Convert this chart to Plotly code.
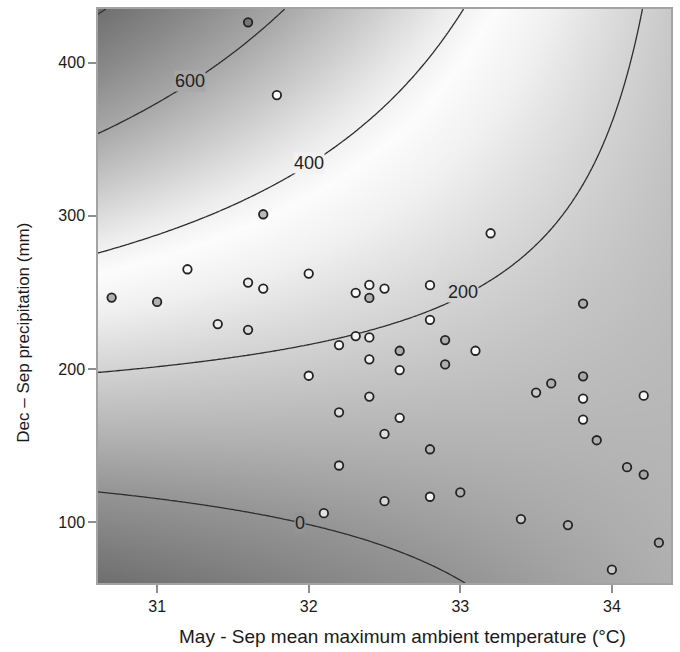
import numpy as np
import plotly.graph_objects as go

# ---------------------------------------------------------------
# Contour traces of the fitted response surface:
# level, temperature (°C) and precipitation (mm) along each isoline
# ---------------------------------------------------------------
iso_level = [0, 0, 0, 0, 0, 0, 0, 0,
             200, 200, 200, 200, 200, 200, 200, 200, 200, 200, 200, 200, 200,
             400, 400, 400, 400, 400, 400, 400, 400, 400,
             600, 600, 600, 600, 600,
             800]
iso_temp = [30.62, 30.99, 31.61, 31.87, 32.02, 32.51, 32.73, 33.00,
            30.62, 30.99, 31.72, 31.87, 32.18, 32.40, 32.89, 33.17, 33.52, 33.74, 33.93, 34.09, 34.19,
            30.62, 30.99, 31.39, 31.80, 32.12, 32.20, 32.33, 32.64, 33.00,
            30.62, 30.99, 31.37, 31.63, 31.83,
            30.64]
iso_precip = [119.2, 115.3, 105.5, 101.6, 98.6, 83.8, 75.1, 61.6,
              196.7, 203.3, 210.8, 213.7, 218.4, 225.0, 243.0, 256.4, 283.6, 309.7, 342.2, 374.8, 434.5,
              274.9, 286.8, 305.3, 325.9, 341.1, 349.8, 358.5, 381.0, 434.5,
              353.7, 373.8, 395.4, 413.5, 434.5,
              433.0]

# Observations: temperature, precipitation and observed response
obs_temp = [30.70, 31.00, 31.20, 31.60, 31.70, 31.40, 31.60, 31.70, 31.79, 31.60,
            32.00, 32.40, 32.31, 32.50, 32.40, 32.80, 32.80, 32.20, 32.31, 32.40,
            32.40, 32.60, 32.60, 32.90, 32.90, 33.10, 32.00, 33.20, 32.40, 32.20,
            32.60, 32.50, 32.80, 32.20, 32.50, 32.80, 33.00, 32.10, 33.81, 33.60,
            33.50, 33.81, 34.21, 33.81, 33.90, 34.10, 34.21, 33.40, 33.71, 34.31,
            34.00, 33.81]
obs_precip = [246.6, 243.8, 265.1, 256.4, 252.5, 229.3, 225.6, 301.0, 378.8, 426.3,
              262.3, 254.9, 249.7, 252.5, 246.4, 254.7, 232.1, 215.6, 221.5, 220.6,
              206.3, 211.9, 199.3, 218.9, 203.0, 211.9, 195.6, 288.6, 182.0, 171.7,
              168.1, 157.6, 147.6, 137.0, 113.7, 116.6, 119.4, 105.9, 195.2, 190.6,
              184.6, 180.7, 182.6, 167.0, 153.5, 135.9, 131.1, 102.0, 98.1, 86.6,
              69.0, 242.7]
obs_value = [90, 90, 360, 290, 330, 290, 220, 120, 360, 780,
             360, 350, 350, 350, 90, 360, 360, 340, 320, 320,
             300, 80, 340, 80, 80, 340, 330, 360, 250, 250,
             330, 240, 110, 240, 220, 310, 90, 250, 60, 80,
             170, 350, 350, 360, 80, 80, 60, 180, 90, 60,
             170, 80]

# Grey shading of the response (value -> grey level)
shade_value = [-160, 0, 100, 200, 300, 365, 420, 500, 600, 700, 820]
shade_grey = [108, 148, 180, 210, 240, 252, 236, 205, 168, 138, 108]

# Contour labels: level and anchor (temperature, precipitation)
label_level = [600, 400, 200, 0]
label_temp = [31.22, 32.00, 33.02, 31.94]
label_precip = [387.8, 334.4, 250.0, 99.4]

x_range = [30.61, 34.39]
y_range = [60.3, 435.0]

# ---- fit the surface  z = a + b*T + c*P + d*T*P ----
t = np.array(iso_temp)
p = np.array(iso_precip)
A = np.column_stack([np.ones_like(t), t, p, t * p])
coef, *_ = np.linalg.lstsq(A, np.array(iso_level, float), rcond=None)


def surface(T, P):
    return coef[0] + coef[1] * T + coef[2] * P + coef[3] * T * P


gx = np.linspace(x_range[0], x_range[1], 240)
gy = np.linspace(y_range[0], y_range[1], 240)
GX, GY = np.meshgrid(gx, gy)
Z = surface(GX, GY)

vmin, vmax = shade_value[0], shade_value[-1]
colorscale = [[(v - vmin) / (vmax - vmin), f"rgb({g},{g},{g})"]
              for v, g in zip(shade_value, shade_grey)]


def grey_of(v):
    g = int(round(np.interp(v, shade_value, shade_grey)))
    return f"rgb({g},{g},{g})"


fig = go.Figure()

fig.add_trace(go.Heatmap(
    x=gx, y=gy, z=Z, colorscale=colorscale, zmin=vmin, zmax=vmax,
    zsmooth="best", showscale=False, hoverinfo="skip"))

fig.add_trace(go.Contour(
    x=gx, y=gy, z=Z,
    contours=dict(start=0, end=800, size=200, coloring="none", showlabels=False),
    line=dict(color="#2e2e2e", width=1.3, smoothing=1),
    showscale=False, hoverinfo="skip"))

fig.add_trace(go.Scatter(
    x=obs_temp, y=obs_precip, mode="markers",
    marker=dict(size=8.5, color=obs_value, colorscale=colorscale,
                cmin=vmin, cmax=vmax, showscale=False,
                line=dict(color="#242424", width=1.8)),
    hoverinfo="skip", showlegend=False))

annotations = []
for lev, lt, lp in zip(label_level, label_temp, label_precip):
    annotations.append(dict(
        x=lt, y=lp, xref="x", yref="y", text=str(lev), showarrow=False,
        font=dict(family="Liberation Sans, Arial", size=18, color="#222222"),
        bgcolor=grey_of(lev), borderpad=0))

plot_l, plot_r, plot_t, plot_b = 98, 7, 8, 69
pw = 680 - plot_l - plot_r
ph = 652 - plot_t - plot_b
bottom_px = plot_t + ph

annotations.append(dict(
    text="May - Sep mean maximum ambient temperature (°C)",
    xref="paper", yref="paper",
    x=(404.0 - plot_l) / pw, y=(bottom_px - 637.0) / ph,
    xanchor="center", yanchor="middle", showarrow=False,
    font=dict(family="Liberation Sans, Arial", size=19, color="#1a1a1a")))
annotations.append(dict(
    text="Dec – Sep precipitation (mm)",
    xref="paper", yref="paper",
    x=(23.0 - plot_l) / pw, y=(bottom_px - 332.0) / ph,
    xanchor="center", yanchor="middle", textangle=-90, showarrow=False,
    font=dict(family="Liberation Sans, Arial", size=17, color="#1a1a1a")))

axis_common = dict(
    showgrid=False, zeroline=False, showline=True, mirror=True,
    linecolor="#a3a3a3", linewidth=1.5,
    ticks="outside", ticklen=8, tickwidth=1.5, tickcolor="#8e8e8e",
    tickfont=dict(family="Liberation Sans, Arial", size=16, color="#1a1a1a"))

fig.update_layout(
    width=680, height=652,
    margin=dict(l=plot_l, r=plot_r, t=plot_t, b=plot_b),
    paper_bgcolor="white", plot_bgcolor="white",
    showlegend=False,
    xaxis=dict(range=x_range, tickvals=[31, 32, 33, 34], **axis_common),
    yaxis=dict(range=y_range, tickvals=[100, 200, 300, 400], **axis_common),
    annotations=annotations)

fig.write_html("out.html")
